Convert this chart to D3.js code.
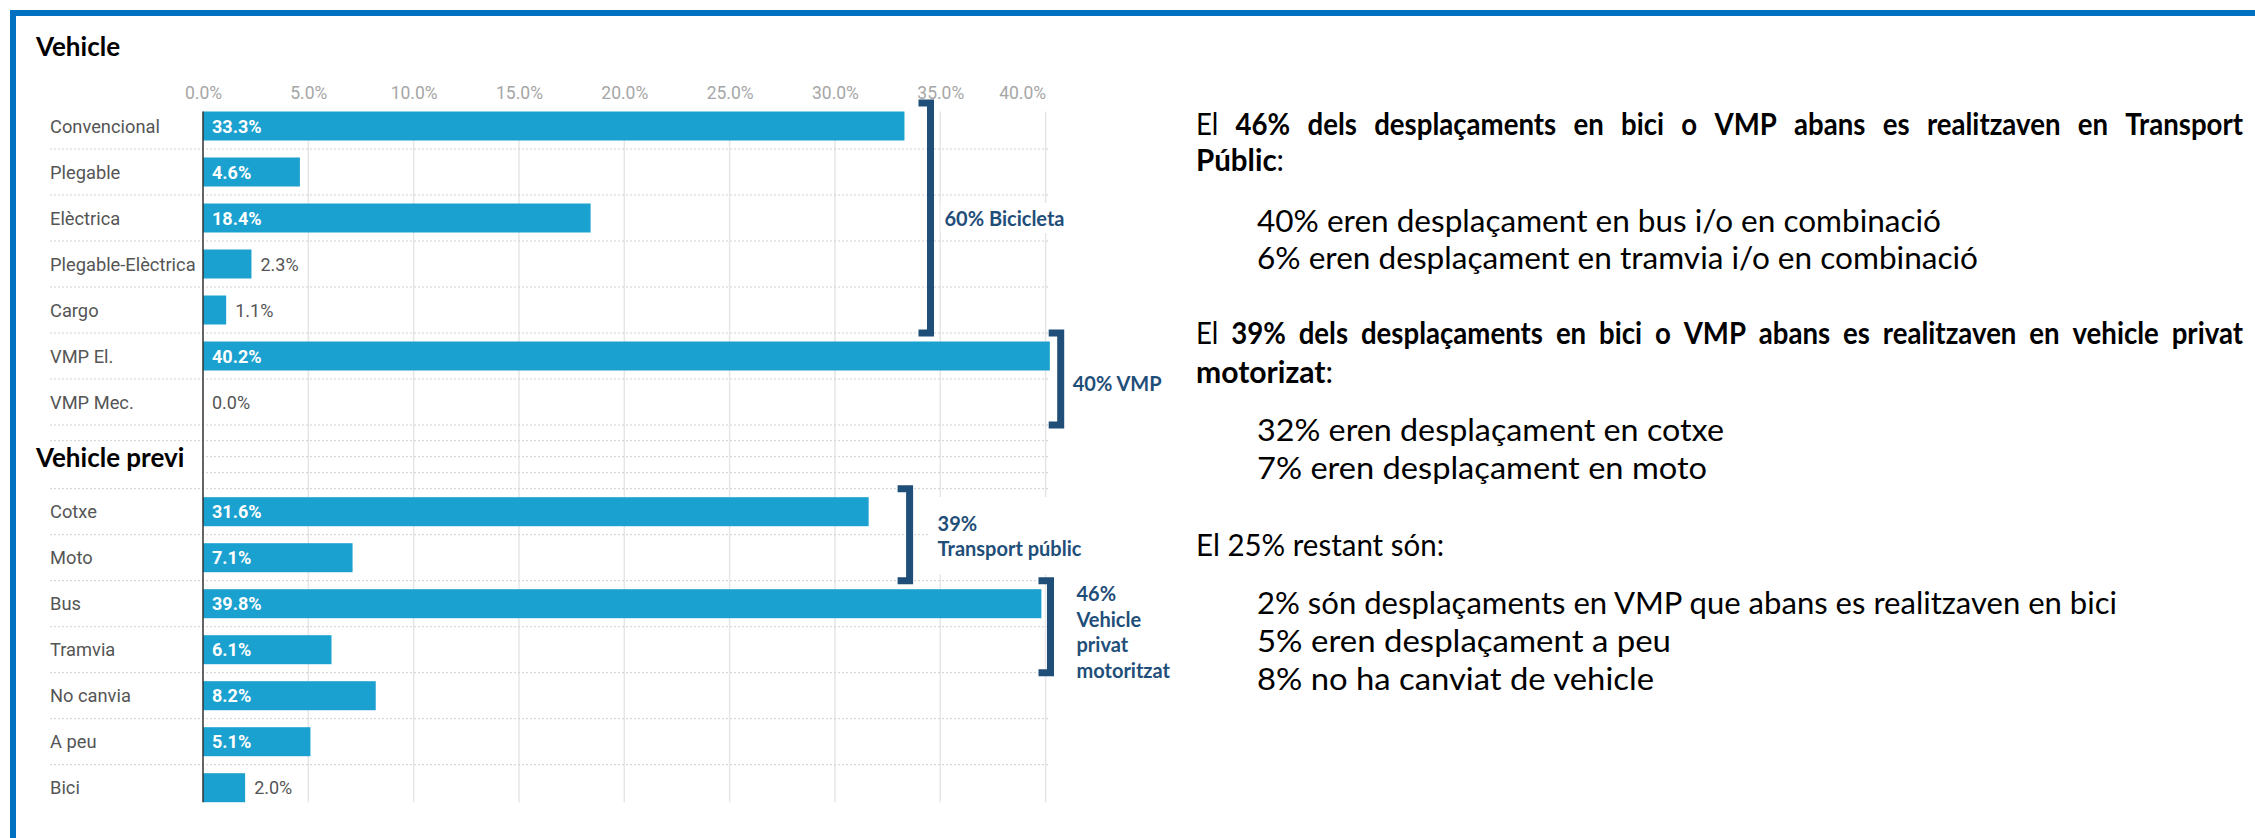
<!DOCTYPE html>
<html>
<head>
<meta charset="utf-8">
<script src="https://cdn.jsdelivr.net/npm/d3@7"></script>
<style>
  html, body { margin: 0; padding: 0; background: #ffffff; }
  svg { display: block; }
</style>
</head>
<body>
<svg id="chart" width="2255" height="838"></svg>
<script>
// ---------------- DATA ----------------
const sectionTitles = ["Vehicle", "Vehicle previ"];
const vehicleCats = ["Convencional", "Plegable", "Elèctrica", "Plegable-Elèctrica", "Cargo", "VMP El.", "VMP Mec."];
const vehicleVals = [33.3, 4.6, 18.4, 2.3, 1.1, 40.2, 0.0];
const previCats = ["Cotxe", "Moto", "Bus", "Tramvia", "No canvia", "A peu", "Bici"];
const previVals = [31.6, 7.1, 39.8, 6.1, 8.2, 5.1, 2.0];
const xTickValues = [0, 5, 10, 15, 20, 25, 30, 35, 40];

// bracket annotations: label lines, which chart, first and last category spanned
const bracketLabels = [["60% Bicicleta"], ["40% VMP"], ["39%", "Transport públic"], ["46%", "Vehicle", "privat", "motoritzat"]];
const bracketChart = [0, 0, 1, 1];
const bracketFrom = ["Convencional", "VMP El.", "Cotxe", "Bus"];
const bracketTo = ["Cargo", "VMP Mec.", "Moto", "Tramvia"];

// right-hand commentary: each line is a list of [text, bold]
const commentLines = [
  [["El", 0], ["46% dels desplaçaments en bici o VMP abans es realitzaven en Transport", 1]],
  [["Públic", 1], [":", 0]],
  [["40% eren desplaçament en bus i/o en combinació", 0]],
  [["6% eren desplaçament en tramvia i/o en combinació", 0]],
  [["El", 0], ["39% dels desplaçaments en bici o VMP abans es realitzaven en vehicle privat", 1]],
  [["motorizat", 1], [":", 0]],
  [["32% eren desplaçament en cotxe", 0]],
  [["7% eren desplaçament en moto", 0]],
  [["El 25% restant són:", 0]],
  [["2% són desplaçaments en VMP que abans es realitzaven en bici", 0]],
  [["5% eren desplaçament a peu", 0]],
  [["8% no ha canviat de vehicle", 0]]
];

// ---------------- LAYOUT ----------------
const W = 2255, H = 838;
const frameColor = "#0070c0";
const barColor = "#1aa1cf";
const navy = "#1f4e79";
const step = 46, pad = 17 / 46;
const labelX = 50;

// commentary layout: x start, baseline, justified right edge / fitted right edge
const cParaX = 1196, cIndentX = 1257, cRight = 2243;
const cLayout = [
  {x: cParaX, base: 135, justify: cRight},
  {x: cParaX, base: 171, end: 1284},
  {x: cIndentX, base: 232, end: 1941},
  {x: cIndentX, base: 269, end: 1978},
  {x: cParaX, base: 344, justify: cRight},
  {x: cParaX, base: 383, end: 1333},
  {x: cIndentX, base: 441, end: 1724},
  {x: cIndentX, base: 479, end: 1707},
  {x: cParaX, base: 556, end: 1444},
  {x: cIndentX, base: 614, end: 2117},
  {x: cIndentX, base: 652, end: 1671},
  {x: cIndentX, base: 690, end: 1654}
];
const cFont = 30;
const kJustify = 0.92;   // horizontal glyph factor for justified lines

const bracketX = [930.5, 1060.7, 909.6, 1050.5];
const bracketArm = 12;
const bracketTextDx = [14, 12, 28, 26];
const bracketTextDy = [0, 4, 1, 5];
const bracketLineH = 25.5;

function draw() {
  const svg = d3.select("#chart");
  svg.append("rect").attr("width", W).attr("height", H).attr("fill", "#fff");

  // frame (top + left)
  svg.append("rect").attr("x", 10).attr("y", 10).attr("width", W - 10).attr("height", 6).attr("fill", frameColor);
  svg.append("rect").attr("x", 10).attr("y", 10).attr("width", 6).attr("height", H - 10).attr("fill", frameColor);

  const x = d3.scaleLinear().domain([0, 40]).range([203, 1045.6]);
  const y1 = d3.scaleBand().domain(vehicleCats).range([103, 103 + vehicleCats.length * step])
    .paddingInner(pad).paddingOuter(pad / 2);
  const y2top = 488.7;
  const y2 = d3.scaleBand().domain(previCats).range([y2top, y2top + previCats.length * step])
    .paddingInner(pad).paddingOuter(pad / 2);
  const charts = [
    {cats: vehicleCats, vals: vehicleVals, y: y1},
    {cats: previCats, vals: previVals, y: y2}
  ];

  const gridTop = y1(vehicleCats[0]);
  const gridBottom = y2(previCats[previCats.length - 1]) + y2.bandwidth();

  // vertical gridlines
  svg.append("g").selectAll("line").data(xTickValues.filter(d => d > 0)).join("line")
    .attr("x1", d => x(d)).attr("x2", d => x(d))
    .attr("y1", gridTop).attr("y2", gridBottom)
    .attr("stroke", "#e6e6e6").attr("stroke-width", 1.5);

  // dotted row separators
  const sepX1 = labelX, sepX2 = x(40) + 3;
  const seps = [];
  vehicleCats.forEach((c, i) => seps.push(y1.range()[0] + y1.step() * (i + 1)));
  previCats.forEach((c, i) => seps.push(y2.range()[0] + y2.step() * i));
  [1, 2, 3].forEach(k => seps.push(y2.range()[0] - 16 * k));
  svg.append("g").selectAll("line").data(seps).join("line")
    .attr("x1", sepX1).attr("x2", sepX2).attr("y1", d => d).attr("y2", d => d)
    .attr("stroke", "#cfcfcf").attr("stroke-width", 1).attr("stroke-dasharray", "2,2");

  // bars + labels
  charts.forEach(ch => {
    const g = svg.append("g");
    g.selectAll("rect").data(ch.cats).join("rect")
      .attr("x", x(0)).attr("y", d => ch.y(d))
      .attr("width", (d, i) => x(ch.vals[i]) - x(0))
      .attr("height", ch.y.bandwidth())
      .attr("fill", barColor);
    // category labels
    g.selectAll("text.cat").data(ch.cats).join("text").attr("class", "cat")
      .attr("x", labelX).attr("y", d => ch.y(d) + ch.y.bandwidth() / 2)
      .attr("dominant-baseline", "central")
      .attr("font-family", "Roboto").attr("font-size", 18.3).attr("fill", "#555")
      .text(d => d);
    // value labels
    g.selectAll("text.val").data(ch.cats).join("text").attr("class", "val")
      .each(function(d, i) {
        const v = ch.vals[i];
        const inside = (x(v) - x(0)) > 62;
        d3.select(this)
          .attr("x", inside ? x(0) + 9 : x(v) + 9)
          .attr("y", ch.y(d) + ch.y.bandwidth() / 2)
          .attr("dominant-baseline", "central")
          .attr("font-family", "Roboto").attr("font-size", 18)
          .attr("font-weight", inside ? 700 : 400)
          .attr("fill", inside ? "#ffffff" : "#555")
          .text(v.toFixed(1) + "%");
      });
  });

  // zero axis line
  svg.append("line").attr("x1", x(0)).attr("x2", x(0)).attr("y1", gridTop).attr("y2", gridBottom)
    .attr("stroke", "#333").attr("stroke-width", 1.5);

  // top axis tick labels
  const ax = svg.append("g").attr("transform", "translate(0,99)")
    .call(d3.axisTop(x).tickValues(xTickValues).tickSize(0).tickPadding(0).tickFormat(d => d.toFixed(1) + "%"));
  ax.select(".domain").remove();
  ax.selectAll("text").attr("font-family", "Roboto").attr("font-size", 17.5).attr("fill", "#a6a6a6");
  ax.selectAll(".tick").filter(d => d === 40).select("text").attr("text-anchor", "end");

  // section titles
  svg.append("rect").attr("x", 28).attr("y", 444).attr("width", 172).attr("height", 37).attr("fill", "#fff");
  svg.append("text").attr("x", 36).attr("y", 56).text(sectionTitles[0])
    .attr("font-family", "Lato").attr("font-weight", 700).attr("font-size", 26).attr("fill", "#000");
  svg.append("text").attr("x", 36).attr("y", 467).text(sectionTitles[1])
    .attr("font-family", "Lato").attr("font-weight", 700).attr("font-size", 26).attr("fill", "#000");

  // brackets
  bracketLabels.forEach((lab, i) => {
    const yy = charts[bracketChart[i]].y;
    const top = yy(bracketFrom[i]) - yy.step() * yy.paddingInner() / 2;
    const bot = yy(bracketTo[i]) + yy.bandwidth() + yy.step() * yy.paddingInner() / 2;
    const bx = bracketX[i];
    const mid = (top + bot) / 2 + bracketTextDy[i];
    const tx = bx + bracketTextDx[i];
    const tg = svg.append("g");
    const t = tg.append("text").attr("font-family", "Lato").attr("font-weight", 700)
      .attr("font-size", 20).attr("fill", navy);
    lab.forEach((l, j) => {
      t.append("tspan").attr("x", tx)
        .attr("y", mid + (j - (lab.length - 1) / 2) * bracketLineH)
        .attr("dominant-baseline", "central").text(l);
    });
    const bb = t.node().getBBox();
    const px = lab.length === 2 ? 8 : 4, py = lab.length === 2 ? 14 : 3;
    tg.insert("rect", "text").attr("x", bb.x - px).attr("y", bb.y - py)
      .attr("width", bb.width + 2 * px).attr("height", bb.height + 2 * py).attr("fill", "#fff");
    svg.append("path")
      .attr("d", `M${bx - bracketArm},${top}H${bx}V${bot}H${bx - bracketArm}`)
      .attr("fill", "none").attr("stroke", navy).attr("stroke-width", 7)
      .attr("stroke-linejoin", "miter").attr("stroke-linecap", "butt");
  });

  // commentary text
  const cg = svg.append("g").attr("font-family", "Lato").attr("font-size", cFont).attr("fill", "#000");
  const tmp = svg.append("text").attr("font-family", "Lato").attr("font-size", cFont).attr("opacity", 0);
  const measure = (s, b) => { tmp.attr("font-weight", b ? 700 : 400).text(s); return tmp.node().getComputedTextLength(); };

  commentLines.forEach((segs, i) => {
    const L = cLayout[i];
    if (L.justify) {
      const words = [];
      segs.forEach(([s, b]) => s.split(" ").forEach(w => words.push([w, b])));
      const widths = words.map(([w, b]) => measure(w, b) * kJustify);
      const sum = d3.sum(widths);
      const target = L.justify - L.x;
      const gap = (target - sum) / (words.length - 1);
      let cx = L.x;
      words.forEach(([w, b], j) => {
        cg.append("text").attr("x", cx).attr("y", L.base).attr("font-weight", b ? 700 : 400)
          .attr("textLength", widths[j]).attr("lengthAdjust", "spacingAndGlyphs").text(w);
        cx += widths[j] + gap;
      });
    } else {
      const widths = segs.map(([s, b]) => measure(s, b));
      const sum = d3.sum(widths);
      const k = L.end ? (L.end - L.x) / sum : 1;
      let cx = L.x;
      segs.forEach(([s, b], j) => {
        cg.append("text").attr("x", cx).attr("y", L.base).attr("font-weight", b ? 700 : 400)
          .attr("textLength", widths[j] * k).attr("lengthAdjust", "spacingAndGlyphs")
          .attr("xml:space", "preserve").text(s);
        cx += widths[j] * k;
      });
    }
  });
  tmp.remove();
}

if (document.fonts && document.fonts.ready) { document.fonts.ready.then(draw); } else { draw(); }
</script>
</body>
</html>
